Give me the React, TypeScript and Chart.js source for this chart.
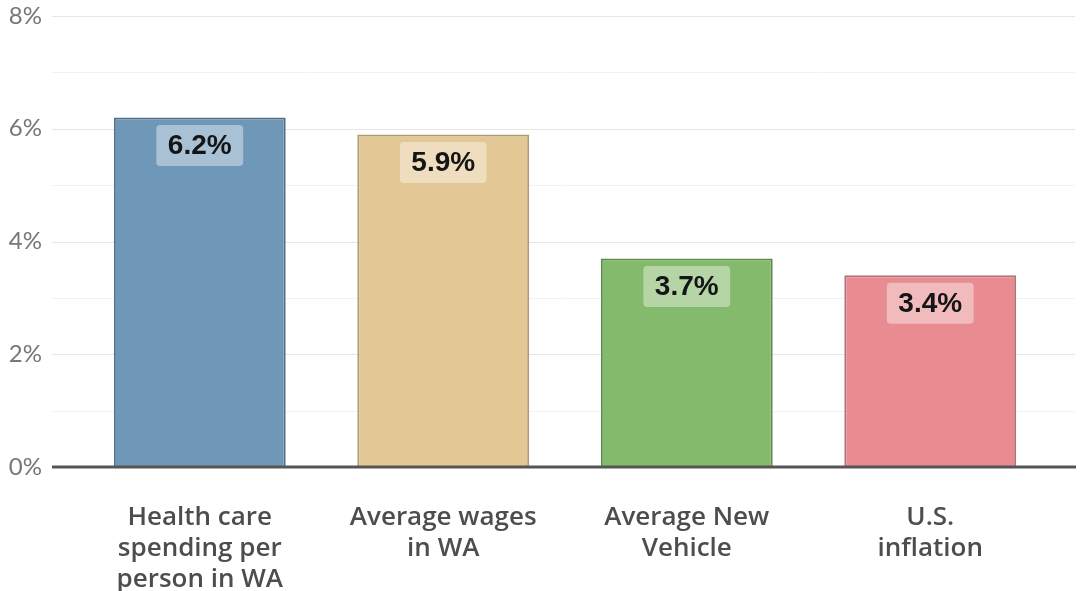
import React, { useEffect, useRef } from "react";
import { Chart, registerables } from "chart.js";

Chart.register(...registerables);

const categories: string[][] = [
  ["Health care", "spending per", "person in WA"],
  ["Average wages", "in WA"],
  ["Average New", "Vehicle"],
  ["U.S.", "inflation"],
];
const values: number[] = [6.2, 5.9, 3.7, 3.4];
const valueLabels: string[] = ["6.2%", "5.9%", "3.7%", "3.4%"];
const fillColors: string[] = ["#6f98b8", "#e3c794", "#84ba6c", "#e88c92"];
const borderColors: string[] = ["#566f85", "#b09b78", "#5f8a4f", "#b0747a"];
const yTicks: number[] = [0, 1, 2, 3, 4, 5, 6, 7, 8];

const gridPlugin = {
  id: "extGrid",
  beforeDatasetsDraw(chart: any) {
    const { ctx, scales } = chart;
    const y = scales.y;
    ctx.save();
    yTicks.forEach((t) => {
      if (t === 0) return;
      const py = Math.round(y.getPixelForValue(t)) + 0.5;
      ctx.strokeStyle = t % 2 === 0 ? "#e6e6e6" : "#f2f2f2";
      ctx.lineWidth = 1;
      ctx.beginPath();
      ctx.moveTo(52, py);
      ctx.lineTo(1075, py);
      ctx.stroke();
    });
    ctx.restore();
  },
  afterDatasetsDraw(chart: any) {
    const { ctx, scales } = chart;
    const y = scales.y;
    ctx.save();
    const py0 = y.getPixelForValue(0);
    ctx.strokeStyle = "#555555";
    ctx.lineWidth = 3;
    ctx.beginPath();
    ctx.moveTo(52, py0);
    ctx.lineTo(1076, py0);
    ctx.stroke();

    const meta = chart.getDatasetMeta(0);
    ctx.font = "bold 28px 'Liberation Sans', Arial, sans-serif";
    ctx.textAlign = "center";
    ctx.textBaseline = "middle";
    meta.data.forEach((bar: any, i: number) => {
      const text = valueLabels[i];
      const cx = bar.x;
      const cy = bar.y + 28;
      const w = ctx.measureText(text).width + 23;
      const h = 41;
      ctx.fillStyle = "rgba(255,255,255,0.4)";
      ctx.beginPath();
      (ctx as any).roundRect(cx - w / 2, cy - h / 2, w, h, 4);
      ctx.fill();
      ctx.fillStyle = "#151515";
      ctx.fillText(text, cx, cy + 1);
    });
    ctx.restore();
  },
};

export default function App() {
  const canvasRef = useRef<HTMLCanvasElement | null>(null);

  useEffect(() => {
    if (!canvasRef.current) return;
    const chart = new Chart(canvasRef.current, {
      type: "bar",
      data: {
        labels: categories,
        datasets: [
          {
            data: values,
            backgroundColor: fillColors,
            borderColor: borderColors,
            borderWidth: 2,
            borderSkipped: "bottom",
            barPercentage: 0.706,
            categoryPercentage: 1,
          },
        ],
      },
      options: {
        animation: false,
        responsive: false,
        maintainAspectRatio: false,
        layout: { padding: { top: 16, right: 30, bottom: 0, left: 0 } },
        plugins: {
          legend: { display: false },
          tooltip: { enabled: false },
        },
        scales: {
          x: {
            grid: { display: false, drawTicks: false },
            border: { display: false },
            ticks: {
              padding: 35,
              color: "#4d4d4d",
              maxRotation: 0,
              autoSkip: false,
              font: { family: "'Open Sans', Lato, sans-serif", size: 26, weight: 600, lineHeight: 1.19 },
            },
            afterFit: (axis: any) => {
              axis.height = 124;
              axis.paddingLeft = 0;
              axis.paddingRight = 0;
              axis.paddingTop = 0;
              axis.paddingBottom = 0;
            },
          },
          y: {
            min: 0,
            max: 8,
            grid: { display: false, drawTicks: false },
            border: { display: false },
            afterBuildTicks: (axis: any) => {
              axis.ticks = yTicks.map((v) => ({ value: v }));
            },
            ticks: {
              padding: 36,
              color: "#777777",
              font: { family: "Lato, 'Open Sans', sans-serif", size: 24 },
              callback: (v: any) => (Number(v) % 2 === 0 ? `${v}%` : ""),
            },
            afterFit: (axis: any) => {
              axis.width = 78;
              axis.paddingTop = 0;
              axis.paddingBottom = 0;
            },
          },
        },
      },
      plugins: [gridPlugin],
    });
    return () => chart.destroy();
  }, []);

  return (
    <div style={{ position: "fixed", left: 0, top: 0, width: 1082, height: 591, background: "#ffffff" }}>
      <canvas ref={canvasRef} width={1082} height={591} style={{ width: 1082, height: 591, display: "block" }} />
    </div>
  );
}
